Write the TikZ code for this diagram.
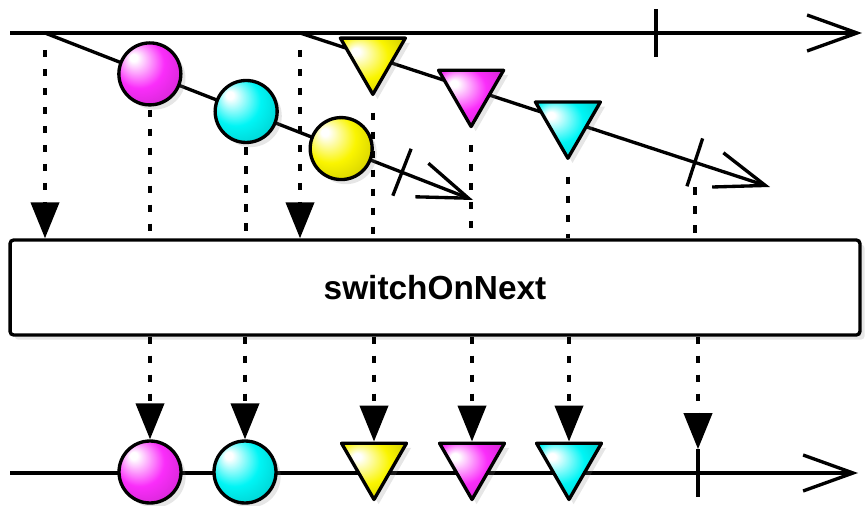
\documentclass[tikz,border=0pt]{standalone}
\usepackage{fontspec}
\setmainfont{Liberation Sans}
\usepackage{tikz}
\usetikzlibrary{arrows.meta,shapes.geometric,shadows}

\definecolor{mag}{RGB}{250,45,250}
\definecolor{cya}{RGB}{0,245,245}
\definecolor{yel}{RGB}{250,245,0}

\pgfdeclareradialshading[glosscol]{glossy}{\pgfpoint{-14bp}{14bp}}{%
  color(0bp)=(white); color(3bp)=(white);
  color(20bp)=(glosscol); color(34bp)=(glosscol!85!black);
  color(50bp)=(glosscol!55!black)}

\tikzset{
  stream/.style={line width=1.9pt, -{Straight Barb[length=1cm,width=0.72cm]}},
  flow/.style={line width=2.3pt, dash pattern=on 0.15cm off 0.23cm},
  flowarrow/.style={flow, -{Triangle[length=0.72cm,width=0.56cm]}},
  gloss/.style={shading=glossy, /utils/exec={\colorlet{glosscol}{#1}}},
  marble/.style={circle, draw, line width=1.9pt, minimum size=1.24cm,
    inner sep=0pt, gloss=#1, drop shadow={opacity=0.2}},
  wedge/.style={regular polygon, regular polygon sides=3,
    shape border rotate=180, draw, line width=1.9pt, line join=round,
    minimum size=1.5cm, inner sep=0pt, gloss=#1, drop shadow={opacity=0.2}},
  stopmark/.style={minimum height=0.94cm, minimum width=0pt, inner sep=0pt},
}

\begin{document}
\begin{tikzpicture}[x=0.02cm, y=-0.02cm]
  \useasboundingbox (0,0) rectangle (865,506);

  % outer stream
  \coordinate (a0) at (10,33);
  \coordinate (e0) at (862,33);
  \coordinate (s1) at (45,33);
  \coordinate (s2) at (300,33);
  \coordinate (e1) at (473,200);
  \coordinate (e2) at (770,187);
  \draw[stream] (a0) -- (e0);
  \node[stopmark] (t0) at (656,33) {};
  \draw[line width=1.9pt] (t0.north) -- (t0.south);

  % inner streams
  \draw[stream] (s1) -- (e1)
    node[pos=0.834, sloped, stopmark] (t1) {}
    node[pos=0.245, marble=mag] (a1) {}
    node[pos=0.470, marble=cya] (a2) {}
    node[pos=0.692, marble=yel] (a3) {};
  \draw[line width=1.9pt] (t1.north) -- (t1.south);
  \draw[stream] (s2) -- (e2)
    node[pos=0.84, sloped, stopmark] (t2) {}
    node[pos=0.155, wedge=yel] (b1) {}
    node[pos=0.364, wedge=mag] (b2) {}
    node[pos=0.570, wedge=cya] (b3) {};
  \draw[line width=1.9pt] (t2.north) -- (t2.south);

  % operator
  \node[draw, line width=1.9pt, rounded corners=2pt, minimum width=17cm,
    minimum height=1.9cm, fill=white, drop shadow={opacity=0.2},
    font=\bfseries\fontsize{19}{22}\selectfont] (box) at (435,287.5) {switchOnNext};

  % into the operator
  \foreach \s in {s1,s2}
    {\draw[flowarrow, shorten <=0.34cm] (\s) -- (\s |- box.north);}
  \foreach \n in {a1,a2}
    {\draw[flow, shorten <=0.06cm] (\n.south) -- (\n |- box.north);}
  \foreach \n in {b1,b2,b3}
    {\draw[flow, shorten <=0.3cm] (\n.corner 1) -- (\n |- box.north);}
  \draw[flow, shorten <=0.5cm] (t2.center) -- (t2 |- box.north);

  % result stream
  \coordinate (a9) at (10,473);
  \coordinate (e9) at (858,473);
  \draw[stream] (a9) -- (e9);
  \node[marble=mag] (c1) at (150,472) {};
  \node[marble=cya] (c2) at (245,472) {};
  \node[wedge=yel] (d1) at (374,462) {};
  \node[wedge=mag] (d2) at (472,462) {};
  \node[wedge=cya] (d3) at (569,462) {};
  \node[stopmark] (t9) at (698,473) {};
  \draw[line width=1.9pt] (t9.north) -- (t9.south);

  % out of the operator
  \foreach \n in {c1,c2,d1,d2,d3,t9}
    {\draw[flowarrow] (box.south -| \n) -- (\n.north);}
\end{tikzpicture}
\end{document}
